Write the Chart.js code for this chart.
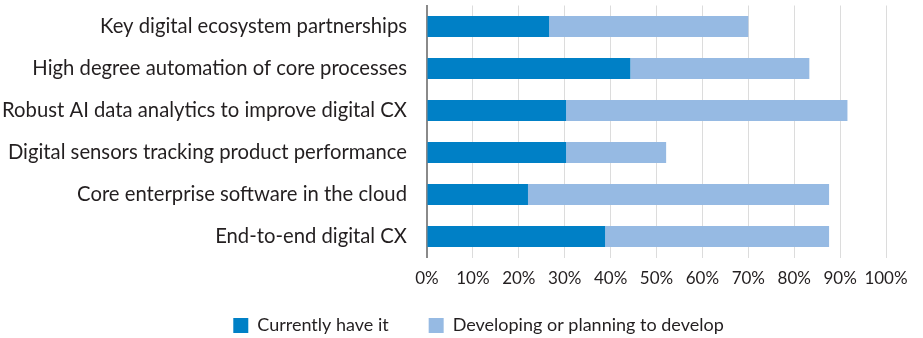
<!DOCTYPE html>
<html>
<head>
<meta charset="utf-8">
<script src="https://cdn.jsdelivr.net/npm/chart.js@4"></script>
<style>
  html, body { margin: 0; padding: 0; background: #fff; overflow: hidden; }
  #wrap { width: 923px; height: 338px; }
</style>
</head>
<body>
<div id="wrap"><canvas id="chart"></canvas></div>
<script>
const categories = [
  "Key digital ecosystem partnerships",
  "High degree automation of core processes",
  "Robust AI data analytics to improve digital CX",
  "Digital sensors tracking product performance",
  "Core enterprise software in the cloud",
  "End-to-end digital CX"
];
const currentlyHave = [26.6, 44.3, 30.3, 30.3, 22.0, 38.8];
const developing = [43.4, 39.0, 61.3, 21.8, 65.6, 48.8];
const seriesNames = ["Currently have it", "Developing or planning to develop"];

const FONT = "Lato";
const TEXT = "#231f20";

/* ===== place the legend row under the axis ===== */
const legendPlace = {
  id: "legendPlace",
  afterLayout(chart) {
    const lg = chart.legend;
    const h = lg.height;
    lg.top = 276.5;
    lg.bottom = lg.top + h;
    const dx = 478.5 - (lg.left + lg.right) / 2;
    lg.left += dx;
    lg.right += dx;
  }
};

const ctx = document.getElementById("chart").getContext("2d");

const chart = new Chart(ctx, {
  type: "bar",
  data: {
    labels: categories,
    datasets: [{
      label: seriesNames[0],
      data: currentlyHave,
      backgroundColor: "#0080c6"
    }, {
      label: seriesNames[1],
      data: developing,
      backgroundColor: "#96bae3"
    }]
  },
  options: {
    indexAxis: "y",
    responsive: true,
    maintainAspectRatio: false,
    animation: false,
    categoryPercentage: 1,
    barPercentage: 0.5,
    layout: {
      padding: { left: 0, right: 37, top: 5.5, bottom: -22.5 }
    },
    scales: {
      x: {
        stacked: true,
        min: 0,
        max: 100,
        ticks: {
          stepSize: 10,
          padding: 11,
          maxRotation: 0,
          minRotation: 0,
          autoSkip: false,
          color: TEXT,
          font: { family: FONT, size: 17 },
          callback: v => v + "%"
        },
        grid: { color: "#dcdcdc", lineWidth: 1, drawTicks: false },
        border: { display: false },
        afterFit(scale) { scale.height = 35; }
      },
      y: {
        stacked: true,
        ticks: {
          padding: 20,
          color: TEXT,
          font: { family: FONT, size: 20.25 }
        },
        grid: { display: false, drawTicks: false },
        border: { display: true, color: "#8a8a8a", width: 2 },
        afterFit(scale) {
          scale.width = 427;
          scale.paddingTop = 0;
          scale.paddingBottom = 0;
        }
      }
    },
    plugins: {
      legend: {
        position: "bottom",
        labels: {
          boxWidth: 15,
          boxHeight: 15,
          padding: 40,
          color: TEXT,
          font: { family: FONT, size: 18 }
        }
      },
      tooltip: { enabled: false }
    }
  },
  plugins: [legendPlace]
});
</script>
</body>
</html>
